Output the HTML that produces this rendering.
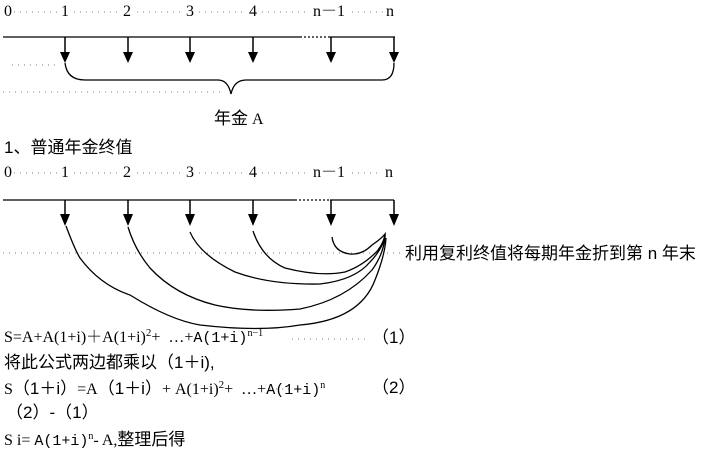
<!DOCTYPE html>
<html><head><meta charset="utf-8"><style>
body{margin:0;background:#fff;width:712px;height:463px;overflow:hidden;position:relative;font-family:"Liberation Serif","Noto Serif CJK SC",serif;color:#000}
.t{position:absolute;font-size:16px;white-space:nowrap;line-height:1}
.s{font-family:"Liberation Sans","Noto Sans CJK SC",sans-serif;font-size:17px}
.m{font-family:"Liberation Mono",monospace;font-size:15px}
sup{vertical-align:6px;line-height:0}
</style></head><body>
<svg width="712" height="463" style="position:absolute;left:0;top:0" xmlns="http://www.w3.org/2000/svg">
<g stroke="#999" stroke-dasharray="1,5" stroke-width="1.2">
<line x1="14" y1="12" x2="58" y2="12"/><line x1="74" y1="12" x2="120" y2="12"/><line x1="137" y1="12" x2="183" y2="12"/><line x1="199" y1="12" x2="246" y2="12"/><line x1="262" y1="12" x2="310" y2="12"/><line x1="352" y1="12" x2="383" y2="12"/>
<line x1="12" y1="65" x2="58" y2="65"/><line x1="3" y1="92" x2="225" y2="92"/>
<line x1="14" y1="173" x2="58" y2="173"/><line x1="74" y1="173" x2="120" y2="173"/><line x1="137" y1="173" x2="183" y2="173"/><line x1="199" y1="173" x2="246" y2="173"/><line x1="262" y1="173" x2="310" y2="173"/><line x1="352" y1="173" x2="381" y2="173"/>
<line x1="3" y1="253" x2="400" y2="253"/>
<line x1="292" y1="339" x2="365" y2="339"/><line x1="270" y1="389" x2="290" y2="389"/>
</g>
<g stroke="#000" stroke-width="1.3" fill="none">
<line x1="3" y1="37" x2="300" y2="37"/><line x1="300" y1="37" x2="330" y2="37" stroke-dasharray="2,2"/><line x1="330" y1="37" x2="395" y2="37"/>
<line x1="3" y1="200" x2="295" y2="200"/><line x1="295" y1="200" x2="330" y2="200" stroke-dasharray="2,2"/><line x1="330" y1="200" x2="394" y2="200"/>
<path d="M65 63 Q67 80 85 80 L218 80 Q228 80 231 94 Q234 80 246 80 L382 80 Q394 80 394 63"/>
<path d="M66 226 Q75 250 80 258 Q100 285 130 295 Q170 320 200 325 Q260 332 300 325 Q360 320 375 280 Q385 255 386 238"/>
<path d="M128 227 Q135 250 150 268 Q175 295 215 305 Q250 313 300 309 Q345 300 372 270 Q383 255 385 238"/>
<path d="M190 232 Q200 255 235 272 Q270 285 320 284 Q355 280 370 262 Q380 252 385 238"/>
<path d="M253 231 Q262 258 285 268 Q320 277 345 272 Q365 265 380 248 Q386 240 385 234"/>
<path d="M332 237 Q334 252 350 254 Q362 255 372 245 Q382 238 385 234 Q384 242 378 250"/>
</g>
<g stroke="#000" stroke-width="1.5">
<line x1="65" y1="37" x2="65" y2="55"/><line x1="128" y1="37" x2="128" y2="55"/><line x1="190" y1="37" x2="190" y2="55"/><line x1="253" y1="37" x2="253" y2="55"/><line x1="331" y1="37" x2="331" y2="55"/><line x1="394" y1="37" x2="394" y2="55"/>
<line x1="65" y1="200" x2="65" y2="216"/><line x1="128" y1="200" x2="128" y2="216"/><line x1="190" y1="200" x2="190" y2="216"/><line x1="253" y1="200" x2="253" y2="216"/><line x1="331" y1="200" x2="331" y2="216"/><line x1="394" y1="200" x2="394" y2="216"/>
</g>
<g fill="#000">
<path d="M60 52h10l-5 11z"/><path d="M123 52h10l-5 11z"/><path d="M185 52h10l-5 11z"/><path d="M248 52h10l-5 11z"/><path d="M326 52h10l-5 11z"/><path d="M389 52h10l-5 11z"/>
<path d="M60 214h10l-5 12z"/><path d="M123 214h10l-5 12z"/><path d="M185 214h10l-5 12z"/><path d="M248 214h10l-5 12z"/><path d="M326 214h10l-5 12z"/><path d="M389 214h10l-5 12z"/>
</g>
</svg>
<div class="t" style="left:4px;top:4px">0</div><div class="t" style="left:61px;top:4px">1</div><div class="t" style="left:123px;top:4px">2</div><div class="t" style="left:186px;top:4px">3</div><div class="t" style="left:249px;top:4px">4</div><div class="t" style="left:313px;top:4px">n－1</div><div class="t" style="left:386px;top:4px">n</div>
<div class="t" style="left:214px;top:110px"><span class="s">年金</span> A</div>
<div class="t s" style="left:4px;top:139px">1、普通年金终值</div>
<div class="t" style="left:4px;top:165px">0</div><div class="t" style="left:61px;top:165px">1</div><div class="t" style="left:123px;top:165px">2</div><div class="t" style="left:186px;top:165px">3</div><div class="t" style="left:249px;top:165px">4</div><div class="t" style="left:313px;top:165px">n－1</div><div class="t" style="left:385px;top:165px">n</div>
<div class="t s" style="left:405px;top:245px">利用复利终值将每期年金折到第 n 年末</div>
<div class="t" style="left:4px;top:330px">S=A+A(1+i)＋A(1+i)<sup style="font-size:11px">2</sup>+ &nbsp;…+<span class="m">A(1+i)</span><sup style="font-size:10px">n−1</sup></div><div class="t s" style="left:372px;top:329px">（1）</div>
<div class="t s" style="left:4px;top:354px">将此公式两边都乘以（1＋i),</div>
<div class="t" style="left:4px;top:380px">S<span class="s">（1＋i）</span>=A<span class="s">（1＋i）</span>+ A(1+i)<sup style="font-size:11px">2</sup>+ &nbsp;…+<span class="m">A(1+i)</span><sup style="font-size:10px">n</sup></div><div class="t s" style="left:372px;top:379px">（2）</div>
<div class="t s" style="left:6px;top:404px">（2）-（1）</div>
<div class="t" style="left:4px;top:431px">S i= <span class="m">A(1+i)</span><sup style="font-size:10px">n</sup>- A,<span class="s">整理后得</span></div>
</body></html>
